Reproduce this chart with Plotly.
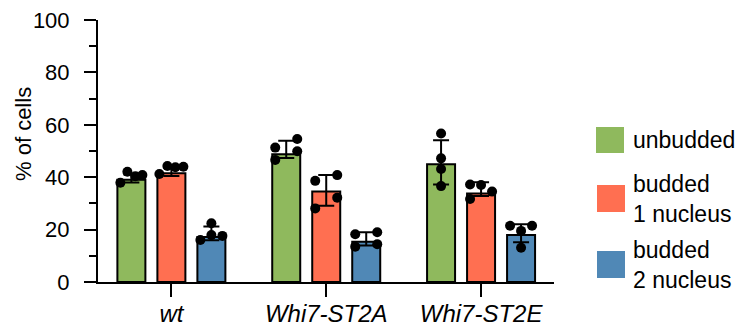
import numpy as np
import plotly.graph_objects as go

# ---- data ----
groups = ["wt", "Whi7-ST2A", "Whi7-ST2E"]
series = ["unbudded", "budded<br>1 nucleus", "budded<br>2 nucleus"]

bar_unbudded = [39.0, 48.8, 44.9]
bar_budded1 = [41.5, 34.5, 33.8]
bar_budded2 = [17.2, 15.4, 17.9]

err_up_unbudded = [2.0, 5.1, 9.2]
err_dn_unbudded = [1.0, 1.5, 7.7]
err_up_budded1 = [2.0, 6.3, 4.3]
err_dn_budded1 = [1.0, 5.4, 1.0]
err_up_budded2 = [4.0, 3.6, 4.1]
err_dn_budded2 = [1.3, 1.5, 2.7]

pts_unbudded = [[37.9, 42.1, 40.4, 40.8], [51.3, 46.6, 54.6, 49.9], [56.7, 47.2, 43.1, 36.6]]
pts_budded1 = [[41.2, 44.3, 43.8, 44.0], [38.6, 28.1, 40.8, 32.2], [37.2, 37.0, 31.7, 34.5]]
pts_budded2 = [[16.0, 22.4, 17.9, 17.6], [18.2, 13.5, 19.0, 14.4], [21.5, 19.5, 21.5, 13.1]]

# point spread inside each bar (pixels, style only)
spread_unbudded = [[-11, -4, 4, 11], [-11, -11, 11, 11], [0, 0, 0, 0]]
spread_budded1 = [[-12, -4, 4, 12], [-11, -11, 11, 11], [-11, 0, -11, 11]]
spread_budded2 = [[-11, 0, 0, 11], [-11, -11, 11, 11], [-11, 0, 11, 0]]

colors = ["#8FB95D", "#FF6F51", "#5088B6"]

# ---- layout geometry ----
W, H = 737, 328
ML, MR, MT, MB = 98, 183, 20, 46
PW, PH = W - ML - MR, H - MT - MB
xr = [-0.474, 2.471]
ppu = PW / (xr[1] - xr[0])  # pixels per x unit
step = 40 / ppu
bw = 28 / ppu

def px_x(px):
    return (px - ML) / PW

def px_y(py):
    return (H - MB - py) / PH

fig = go.Figure()
bars = [bar_unbudded, bar_budded1, bar_budded2]
ups = [err_up_unbudded, err_up_budded1, err_up_budded2]
dns = [err_dn_unbudded, err_dn_budded1, err_dn_budded2]
pts = [pts_unbudded, pts_budded1, pts_budded2]
spreads = [spread_unbudded, spread_budded1, spread_budded2]

gx = np.arange(len(groups))
for i in range(3):
    xs = gx + (i - 1) * step
    fig.add_trace(go.Bar(
        x=xs, y=bars[i], width=bw, name=series[i],
        marker=dict(color=colors[i], line=dict(color="black", width=2)),
        error_y=dict(type="data", symmetric=False, array=ups[i], arrayminus=dns[i],
                     color="black", thickness=2, width=8),
        showlegend=False,
    ))
for i in range(3):
    px_list, py_list = [], []
    for g in range(len(groups)):
        cx = g + (i - 1) * step
        for v, s in zip(pts[i][g], spreads[i][g]):
            px_list.append(cx + s / ppu)
            py_list.append(v)
    fig.add_trace(go.Scatter(
        x=px_list, y=py_list, mode="markers",
        marker=dict(color="black", size=10),
        showlegend=False, cliponaxis=False,
    ))

FONT = "Liberation Sans, Arial, sans-serif"

# custom legend
leg_boxes = [(596, 127, 624, 153), (597, 185, 625, 212), (597, 251, 625, 278)]
leg_text_y = [140, 199, 265]
for i in range(3):
    x0, y0, x1, y1 = leg_boxes[i]
    fig.add_shape(type="rect", xref="paper", yref="paper",
                  x0=px_x(x0), x1=px_x(x1), y0=px_y(y1), y1=px_y(y0),
                  fillcolor=colors[i], line=dict(width=0))
    fig.add_annotation(xref="paper", yref="paper", x=px_x(631), y=px_y(leg_text_y[i]),
                       text=series[i], showarrow=False, xanchor="left", yanchor="middle",
                       align="left", font=dict(family=FONT, size=23, color="black"))

fig.add_annotation(xref="paper", yref="paper", x=px_x(23), y=px_y(134),
                   text="% of cells", textangle=-90, showarrow=False,
                   xanchor="center", yanchor="middle",
                   font=dict(family=FONT, size=22, color="black"))

fig.update_layout(
    width=W, height=H,
    margin=dict(l=ML, r=MR, t=MT, b=MB, pad=0, autoexpand=False),
    paper_bgcolor="white", plot_bgcolor="white",
    barmode="overlay",
    font=dict(family=FONT, size=22, color="black"),
    xaxis=dict(range=xr, tickvals=list(gx), ticktext=["<i>%s</i>" % g for g in groups],
               automargin=False,
               showgrid=False, zeroline=False, showline=True, linecolor="black", linewidth=2,
               ticks="outside", ticklen=13, tickwidth=2, tickcolor="black",
               ticklabelstandoff=-4,
               tickfont=dict(family=FONT, size=24, color="black")),
    yaxis=dict(range=[0, 100], tickvals=[0, 20, 40, 60, 80, 100], automargin=False,
               showgrid=False, zeroline=False, showline=True, linecolor="black", linewidth=2,
               ticks="outside", ticklen=12, tickwidth=2, tickcolor="black",
               ticklabelstandoff=10,
               minor=dict(dtick=10, ticks="outside", ticklen=7, tickwidth=2, tickcolor="black"),
               tickfont=dict(family=FONT, size=22, color="black")),
)

fig.write_html("out.html", config={"displayModeBar": False},
               post_script="document.body.style.margin='0';document.body.style.overflow='hidden';")
